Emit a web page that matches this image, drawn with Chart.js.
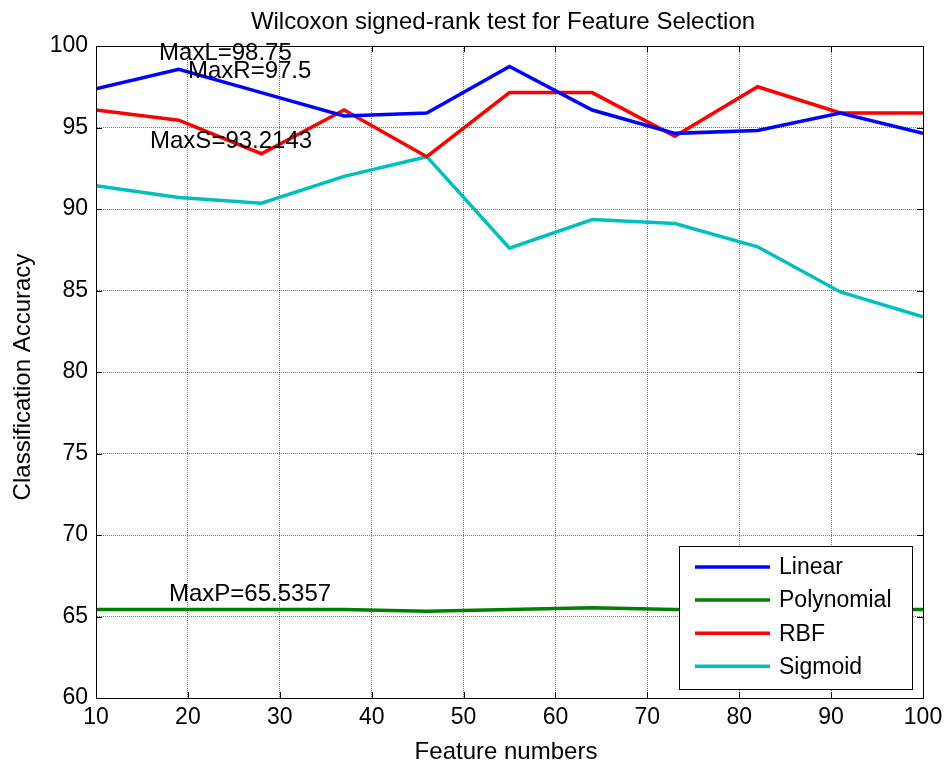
<!DOCTYPE html>
<html>
<head>
<meta charset="utf-8">
<script src="https://cdn.jsdelivr.net/npm/chart.js@4/dist/chart.umd.min.js"></script>
<style>
html,body{margin:0;padding:0;background:#fff;}
#wrap{width:949px;height:767px;position:relative;}
canvas{display:block;}
</style>
</head>
<body>
<div id="wrap"><canvas id="c" width="949" height="767"></canvas></div>
<script>
// ---- data ----
const featureNumbers = [10, 19, 28, 37, 46, 55, 64, 73, 82, 91, 100];
const linearAcc     = [97.38, 98.57, 97.14, 95.71, 95.89, 98.75, 96.07, 94.64, 94.82, 95.89, 94.64];
const polynomialAcc = [65.43, 65.43, 65.43, 65.43, 65.32, 65.43, 65.54, 65.43, 65.43, 65.43, 65.43];
const rbfAcc        = [96.07, 95.45, 93.39, 96.07, 93.21, 97.14, 97.14, 94.46, 97.5, 95.89, 95.89];
const sigmoidAcc    = [91.43, 90.71, 90.36, 92.0, 93.21, 87.6, 89.35, 89.11, 87.68, 84.91, 83.39];
const seriesNames   = ['Linear', 'Polynomial', 'RBF', 'Sigmoid'];
const seriesColors  = ['#0000ff', '#008000', '#ff0000', '#00bfbf'];
const xTicks = [10, 20, 30, 40, 50, 60, 70, 80, 90, 100];
const yTicks = [60, 65, 70, 75, 80, 85, 90, 95, 100];
const annLabels = ['MaxL=98.75', 'MaxR=97.5', 'MaxS=93.2143', 'MaxP=65.5357'];
const annX = [16.86, 20.01, 15.88, 17.94];
const annY = [99.14, 98.04, 93.75, 65.93];
const titleText = 'Wilcoxon signed-rank test for Feature Selection';
const xTitle = 'Feature numbers';
const yTitle = 'Classification Accuracy';

const allSeries = [linearAcc, polynomialAcc, rbfAcc, sigmoidAcc];
const FONT = '"Liberation Sans", Arial, sans-serif';

const datasets = allSeries.map((arr, i) => ({
  label: seriesNames[i],
  data: featureNumbers.map((x, j) => ({x: x, y: arr[j]})),
  borderColor: seriesColors[i],
  backgroundColor: seriesColors[i],
  borderWidth: 3.5,
  pointRadius: 0,
  tension: 0,
  fill: false
}));

const matlabDecor = {
  id: 'matlabDecor',
  afterDraw(chart) {
    const ctx = chart.ctx;
    const a = chart.chartArea;
    const xs = chart.scales.x, ys = chart.scales.y;
    ctx.save();
    // box
    ctx.strokeStyle = '#000';
    ctx.lineWidth = 1;
    ctx.setLineDash([]);
    ctx.strokeRect(Math.round(a.left) + 0.5, Math.round(a.top) + 0.5,
                   Math.round(a.right - a.left), Math.round(a.bottom - a.top));
    // inward ticks
    ctx.beginPath();
    xTicks.forEach(v => {
      const px = Math.round(xs.getPixelForValue(v)) + 0.5;
      ctx.moveTo(px, a.bottom); ctx.lineTo(px, a.bottom - 6);
      ctx.moveTo(px, a.top); ctx.lineTo(px, a.top + 6);
    });
    yTicks.forEach(v => {
      const py = Math.round(ys.getPixelForValue(v)) + 0.5;
      ctx.moveTo(a.left, py); ctx.lineTo(a.left + 6, py);
      ctx.moveTo(a.right, py); ctx.lineTo(a.right - 6, py);
    });
    ctx.stroke();

    // annotations
    ctx.fillStyle = '#000';
    ctx.font = '24px ' + FONT;
    ctx.textAlign = 'left';
    ctx.textBaseline = 'alphabetic';
    annLabels.forEach((t, i) => {
      ctx.fillText(t, xs.getPixelForValue(annX[i]), ys.getPixelForValue(annY[i]));
    });

    // title
    ctx.textAlign = 'center';
    ctx.font = '24px ' + FONT;
    ctx.fillText(titleText, 503, 29);
    // x title
    ctx.fillText(xTitle, 506, 759);
    // y title
    ctx.save();
    ctx.translate(30, 377);
    ctx.rotate(-Math.PI / 2);
    ctx.fillText(yTitle, 0, 0);
    ctx.restore();

    // legend
    const lx = a.right - 244, ly = a.bottom - 152, lw = 233, lh = 143;
    ctx.fillStyle = '#fff';
    ctx.fillRect(lx, ly, lw, lh);
    ctx.strokeStyle = '#000';
    ctx.lineWidth = 1;
    ctx.strokeRect(Math.round(lx) + 0.5, Math.round(ly) + 0.5, lw, lh);
    ctx.font = '23px ' + FONT;
    ctx.textAlign = 'left';
    ctx.textBaseline = 'middle';
    seriesNames.forEach((n, i) => {
      const ry = ly + 21 + i * 33.1;
      ctx.strokeStyle = seriesColors[i];
      ctx.lineWidth = 3.5;
      ctx.beginPath();
      ctx.moveTo(lx + 16, ry);
      ctx.lineTo(lx + 91, ry);
      ctx.stroke();
      ctx.fillStyle = '#000';
      ctx.fillText(n, lx + 100, ry + 1);
    });
    ctx.restore();
  }
};

new Chart(document.getElementById('c'), {
  type: 'line',
  data: { datasets: datasets },
  options: {
    responsive: false,
    animation: false,
    layout: { padding: { left: 0, right: 26, top: 46, bottom: 0 } },
    plugins: { legend: { display: false }, title: { display: false }, tooltip: { enabled: false } },
    scales: {
      x: {
        type: 'linear',
        min: 10, max: 100,
        afterBuildTicks: s => { s.ticks = xTicks.map(v => ({value: v})); },
        afterFit: s => { s.height = 69; },
        grid: { color: 'rgba(0,0,0,0.55)', lineWidth: 1, drawTicks: false },
        border: { display: true, color: '#000', width: 1, dash: [1, 1] },
        ticks: { color: '#000', font: { family: FONT, size: 23 }, padding: 6, maxRotation: 0, autoSkip: false }
      },
      y: {
        type: 'linear',
        min: 60, max: 100,
        afterBuildTicks: s => { s.ticks = yTicks.map(v => ({value: v})); },
        afterFit: s => { s.width = 96; },
        grid: { color: 'rgba(0,0,0,0.55)', lineWidth: 1, drawTicks: false },
        border: { display: true, color: '#000', width: 1, dash: [1, 1] },
        ticks: { color: '#000', font: { family: FONT, size: 23 }, padding: 8, autoSkip: false }
      }
    }
  },
  plugins: [matlabDecor]
});
</script>
</body>
</html>
